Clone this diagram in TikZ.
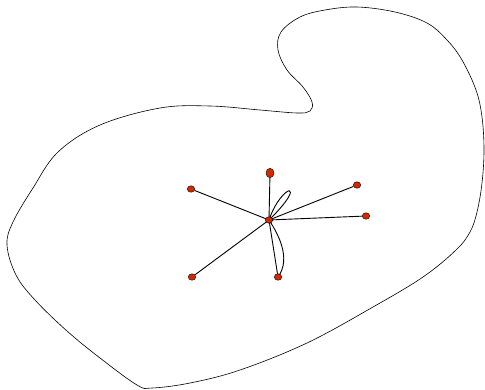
\documentclass[tikz,border=0pt]{standalone}
\usetikzlibrary{shapes.geometric}
\definecolor{vred}{RGB}{214,40,0}
\begin{document}
\begin{tikzpicture}[x=1pt,y=-1pt,
  vtx/.style={ellipse,draw=black,line width=0.4pt,fill=vred,inner sep=0pt,minimum width=7.5pt,minimum height=6.5pt},
  edge/.style={line width=0.9pt}]
\useasboundingbox (0,0) rectangle (485,389);
\draw[line width=0.6pt] plot[smooth cycle,tension=0.6] coordinates {
 (357,7) (395,12) (427,23) (447,40) (462,60) (476,90) (482,117) (484,150)
 (482,183) (477,212) (470,232) (456,250) (423,277) (373,307) (307,343)
 (240,370) (190,383) (152,388) (137,385) (100,358) (67,331) (35,300)
 (16,275) (7,245) (13,222) (33,188) (58,152) (100,125) (160,108) (210,106)
 (260,110) (297,113) (310,111) (312,102) (303,87) (287,70) (278,50)
 (281,32) (300,17) (325,10)};
\coordinate (cc) at (269,220);
\coordinate (bb) at (278,277);
\node[vtx] (t) at (270,173) [minimum width=8pt,minimum height=9.5pt] {};
\node[vtx] (ul) at (191,189) {};
\node[vtx] (ur) at (357,185) {};
\node[vtx] (r) at (366,216) {};
\node[vtx] (ll) at (192,277) {};
\draw[edge] (cc) -- (t);
\draw[edge] (cc) -- (ul);
\draw[edge] (cc) -- (ur);
\draw[edge] (cc) -- (r);
\draw[edge] (cc) -- (ll);
\draw[edge] (cc) -- (bb);
\draw[edge] (cc) .. controls (277,232) and (292,258) .. (bb);
\draw[edge] (cc) .. controls (282,182) and (310,180) .. (cc);
\node[vtx] (c) at (cc) {};
\node[vtx] (b) at (bb) {};
\end{tikzpicture}
\end{document}
